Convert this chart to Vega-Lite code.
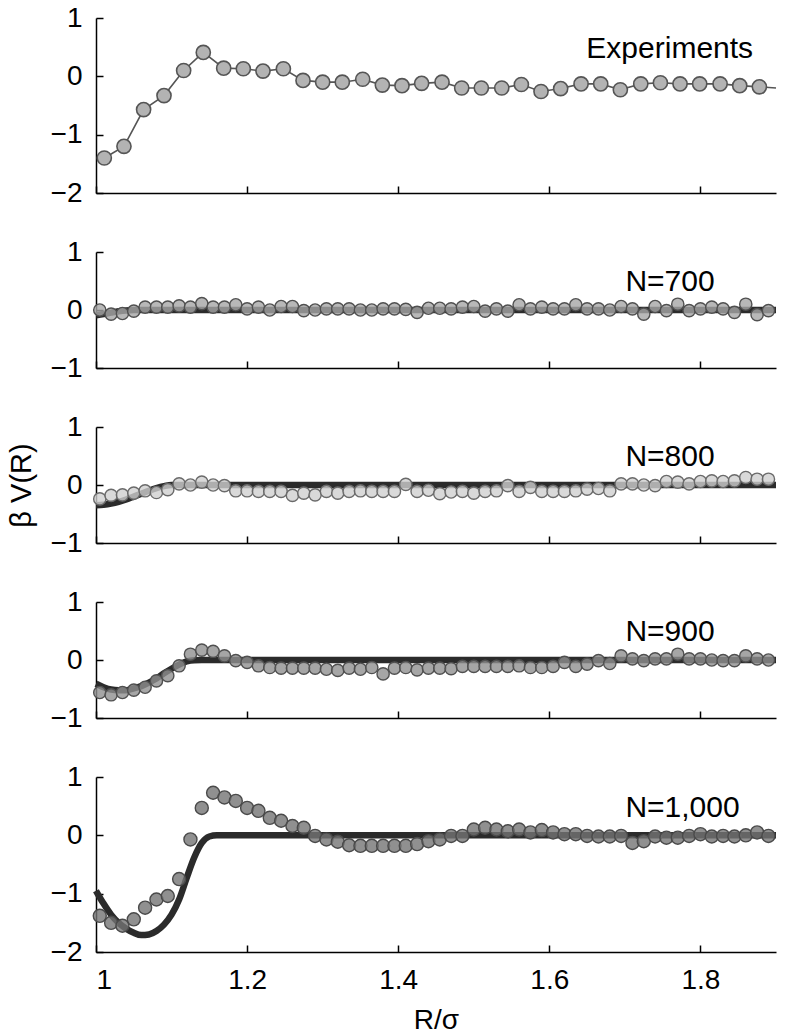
{
  "$schema": "https://vega.github.io/schema/vega-lite/v6.json",
  "padding": {"left": 7, "top": 4, "right": 5, "bottom": 5},
  "bounds": "flush",
  "spacing": 59,
  "background": "white",
  "config": {
    "view": {"stroke": null},
    "font": "Liberation Sans",
    "axis": {
      "domainColor": "black", "domainWidth": 1.5, "tickColor": "black", "tickWidth": 1.5,
      "tickSize": -7, "labelPadding": 21, "grid": false, "format": ".1~f",
      "labelFont": "Liberation Sans", "labelFontSize": 28, "labelColor": "black",
      "titleFont": "Liberation Sans", "titleFontWeight": "normal", "titleColor": "black", "titleFontSize": 29
    },
    "text": {"font": "Liberation Sans", "fontSize": 30, "color": "black", "align": "left", "baseline": "alphabetic"}
  },
  "datasets": {
    "exp": [
      {"x":1.011,"y":-1.40},{"x":1.037,"y":-1.20},{"x":1.063,"y":-0.57},{"x":1.090,"y":-0.33},{"x":1.116,"y":0.10},
      {"x":1.142,"y":0.41},{"x":1.169,"y":0.14},{"x":1.195,"y":0.13},{"x":1.221,"y":0.09},{"x":1.248,"y":0.13},
      {"x":1.274,"y":-0.07},{"x":1.300,"y":-0.10},{"x":1.326,"y":-0.10},{"x":1.353,"y":-0.05},{"x":1.379,"y":-0.15},
      {"x":1.405,"y":-0.16},{"x":1.431,"y":-0.12},{"x":1.458,"y":-0.10},{"x":1.484,"y":-0.20},{"x":1.510,"y":-0.20},
      {"x":1.537,"y":-0.20},{"x":1.563,"y":-0.14},{"x":1.589,"y":-0.26},{"x":1.615,"y":-0.21},{"x":1.642,"y":-0.13},
      {"x":1.668,"y":-0.13},{"x":1.694,"y":-0.23},{"x":1.721,"y":-0.13},{"x":1.747,"y":-0.11},{"x":1.773,"y":-0.13},
      {"x":1.799,"y":-0.13},{"x":1.826,"y":-0.13},{"x":1.852,"y":-0.16},{"x":1.878,"y":-0.18}
    ],
    "expTail": [{"x":1.878,"y":-0.18},{"x":1.9,"y":-0.2}],
    "n700": [
      {"x":1.005,"y":0},{"x":1.020,"y":-0.07},{"x":1.035,"y":-0.06},{"x":1.050,"y":-0.02},{"x":1.065,"y":0.05},
      {"x":1.080,"y":0.05},{"x":1.095,"y":0.05},{"x":1.110,"y":0.07},{"x":1.125,"y":0.05},{"x":1.140,"y":0.11},
      {"x":1.155,"y":0.05},{"x":1.170,"y":0.05},{"x":1.185,"y":0.09},{"x":1.200,"y":0.02},{"x":1.215,"y":0.05},
      {"x":1.230,"y":0},{"x":1.245,"y":0.06},{"x":1.260,"y":0.06},{"x":1.275,"y":-0.01},{"x":1.290,"y":0},
      {"x":1.305,"y":0.02},{"x":1.320,"y":0.02},{"x":1.335,"y":0.02},{"x":1.350,"y":0},{"x":1.365,"y":0},
      {"x":1.380,"y":0.02},{"x":1.395,"y":0.02},{"x":1.410,"y":0.01},{"x":1.425,"y":-0.04},{"x":1.440,"y":0.03},
      {"x":1.455,"y":0.03},{"x":1.470,"y":0.02},{"x":1.485,"y":0.05},{"x":1.500,"y":0.06},{"x":1.515,"y":-0.02},
      {"x":1.530,"y":0.02},{"x":1.545,"y":-0.02},{"x":1.560,"y":0.09},{"x":1.575,"y":0.02},{"x":1.590,"y":0.05},
      {"x":1.605,"y":0.02},{"x":1.620,"y":0.02},{"x":1.635,"y":0.09},{"x":1.650,"y":0.02},{"x":1.665,"y":0.02},
      {"x":1.680,"y":0},{"x":1.695,"y":0.06},{"x":1.710,"y":0.02},{"x":1.725,"y":-0.07},{"x":1.740,"y":0.06},
      {"x":1.755,"y":-0.01},{"x":1.770,"y":0.10},{"x":1.785,"y":-0.01},{"x":1.800,"y":0.02},{"x":1.815,"y":0.05},
      {"x":1.830,"y":0.02},{"x":1.845,"y":-0.04},{"x":1.860,"y":0.10},{"x":1.875,"y":-0.08},{"x":1.890,"y":-0.01}
    ],
    "n800": [
      {"x":1.005,"y":-0.24},{"x":1.020,"y":-0.18},{"x":1.035,"y":-0.17},{"x":1.050,"y":-0.14},{"x":1.065,"y":-0.10},
      {"x":1.080,"y":-0.13},{"x":1.095,"y":-0.08},{"x":1.110,"y":0.02},{"x":1.125,"y":0},{"x":1.140,"y":0.05},
      {"x":1.155,"y":0},{"x":1.170,"y":-0.01},{"x":1.185,"y":-0.10},{"x":1.200,"y":-0.10},{"x":1.215,"y":-0.11},
      {"x":1.230,"y":-0.11},{"x":1.245,"y":-0.11},{"x":1.260,"y":-0.18},{"x":1.275,"y":-0.14},{"x":1.290,"y":-0.17},
      {"x":1.305,"y":-0.11},{"x":1.320,"y":-0.14},{"x":1.335,"y":-0.11},{"x":1.350,"y":-0.10},{"x":1.365,"y":-0.11},
      {"x":1.380,"y":-0.11},{"x":1.395,"y":-0.11},{"x":1.410,"y":0.01},{"x":1.425,"y":-0.11},{"x":1.440,"y":-0.09},
      {"x":1.455,"y":-0.15},{"x":1.470,"y":-0.12},{"x":1.485,"y":-0.11},{"x":1.500,"y":-0.14},{"x":1.515,"y":-0.11},
      {"x":1.530,"y":-0.10},{"x":1.545,"y":-0.01},{"x":1.560,"y":-0.11},{"x":1.575,"y":-0.04},{"x":1.590,"y":-0.11},
      {"x":1.605,"y":-0.11},{"x":1.620,"y":-0.11},{"x":1.635,"y":-0.10},{"x":1.650,"y":-0.07},{"x":1.665,"y":-0.06},
      {"x":1.680,"y":-0.10},{"x":1.695,"y":0.02},{"x":1.710,"y":0.02},{"x":1.725,"y":0},{"x":1.740,"y":-0.01},
      {"x":1.755,"y":0.06},{"x":1.770,"y":0.05},{"x":1.785,"y":0.02},{"x":1.800,"y":0.06},{"x":1.815,"y":0.07},
      {"x":1.830,"y":0.06},{"x":1.845,"y":0.07},{"x":1.860,"y":0.13},{"x":1.875,"y":0.10},{"x":1.890,"y":0.10}
    ],
    "n900": [
      {"x":1.005,"y":-0.56},{"x":1.020,"y":-0.60},{"x":1.035,"y":-0.56},{"x":1.050,"y":-0.52},{"x":1.065,"y":-0.47},
      {"x":1.080,"y":-0.36},{"x":1.095,"y":-0.27},{"x":1.110,"y":-0.10},{"x":1.125,"y":0.10},{"x":1.140,"y":0.17},
      {"x":1.155,"y":0.15},{"x":1.170,"y":0.07},{"x":1.185,"y":-0.01},{"x":1.200,"y":-0.04},{"x":1.215,"y":-0.10},
      {"x":1.230,"y":-0.13},{"x":1.245,"y":-0.14},{"x":1.260,"y":-0.14},{"x":1.275,"y":-0.14},{"x":1.290,"y":-0.14},
      {"x":1.305,"y":-0.16},{"x":1.320,"y":-0.18},{"x":1.335,"y":-0.14},{"x":1.350,"y":-0.16},{"x":1.365,"y":-0.13},
      {"x":1.380,"y":-0.24},{"x":1.395,"y":-0.14},{"x":1.410,"y":-0.13},{"x":1.425,"y":-0.17},{"x":1.440,"y":-0.14},
      {"x":1.455,"y":-0.14},{"x":1.470,"y":-0.15},{"x":1.485,"y":-0.11},{"x":1.500,"y":-0.11},{"x":1.515,"y":-0.11},
      {"x":1.530,"y":-0.11},{"x":1.545,"y":-0.11},{"x":1.560,"y":-0.10},{"x":1.575,"y":-0.13},{"x":1.590,"y":-0.13},
      {"x":1.605,"y":-0.11},{"x":1.620,"y":-0.04},{"x":1.635,"y":-0.11},{"x":1.650,"y":-0.07},{"x":1.665,"y":-0.01},
      {"x":1.680,"y":-0.06},{"x":1.695,"y":0.07},{"x":1.710,"y":0.02},{"x":1.725,"y":-0.01},{"x":1.740,"y":0.02},
      {"x":1.755,"y":0.02},{"x":1.770,"y":0.10},{"x":1.785,"y":0.02},{"x":1.800,"y":0.02},{"x":1.815,"y":0},
      {"x":1.830,"y":-0.01},{"x":1.845,"y":-0.01},{"x":1.860,"y":0.07},{"x":1.875,"y":0.02},{"x":1.890,"y":0}
    ],
    "n1000": [
      {"x":1.005,"y":-1.38},{"x":1.020,"y":-1.50},{"x":1.035,"y":-1.55},{"x":1.050,"y":-1.44},{"x":1.065,"y":-1.24},
      {"x":1.080,"y":-1.10},{"x":1.095,"y":-1.04},{"x":1.110,"y":-0.75},{"x":1.125,"y":-0.07},{"x":1.140,"y":0.47},
      {"x":1.155,"y":0.73},{"x":1.170,"y":0.65},{"x":1.185,"y":0.59},{"x":1.200,"y":0.47},{"x":1.215,"y":0.42},
      {"x":1.230,"y":0.30},{"x":1.245,"y":0.25},{"x":1.260,"y":0.16},{"x":1.275,"y":0.13},{"x":1.290,"y":-0.01},
      {"x":1.305,"y":-0.07},{"x":1.320,"y":-0.11},{"x":1.335,"y":-0.17},{"x":1.350,"y":-0.18},{"x":1.365,"y":-0.18},
      {"x":1.380,"y":-0.18},{"x":1.395,"y":-0.18},{"x":1.410,"y":-0.18},{"x":1.425,"y":-0.15},{"x":1.440,"y":-0.10},
      {"x":1.455,"y":-0.07},{"x":1.470,"y":-0.01},{"x":1.485,"y":-0.01},{"x":1.500,"y":0.10},{"x":1.515,"y":0.13},
      {"x":1.530,"y":0.10},{"x":1.545,"y":0.07},{"x":1.560,"y":0.10},{"x":1.575,"y":0.05},{"x":1.590,"y":0.09},
      {"x":1.605,"y":0.05},{"x":1.620,"y":0.02},{"x":1.635,"y":0.02},{"x":1.650,"y":-0.01},{"x":1.665,"y":-0.02},
      {"x":1.680,"y":-0.02},{"x":1.695,"y":-0.01},{"x":1.710,"y":-0.13},{"x":1.725,"y":-0.10},{"x":1.740,"y":-0.02},
      {"x":1.755,"y":-0.04},{"x":1.770,"y":-0.04},{"x":1.785,"y":-0.01},{"x":1.800,"y":0.02},{"x":1.815,"y":-0.02},
      {"x":1.830,"y":-0.01},{"x":1.845,"y":-0.02},{"x":1.860,"y":0},{"x":1.875,"y":0.05},{"x":1.890,"y":-0.01}
    ],
    "c700": [{"x":1.0,"y":-0.09},{"x":1.01,"y":-0.07},{"x":1.02,"y":-0.045},{"x":1.03,"y":-0.022},{"x":1.04,"y":-0.007},{"x":1.05,"y":0},{"x":1.9,"y":0}],
    "c800": [{"x":1.0,"y":-0.35},{"x":1.01,"y":-0.34},{"x":1.02,"y":-0.32},{"x":1.03,"y":-0.29},{"x":1.04,"y":-0.25},{"x":1.05,"y":-0.20},{"x":1.06,"y":-0.15},{"x":1.07,"y":-0.10},{"x":1.08,"y":-0.055},{"x":1.09,"y":-0.02},{"x":1.10,"y":0},{"x":1.9,"y":0}],
    "c900": [{"x":1.0,"y":-0.41},{"x":1.01,"y":-0.47},{"x":1.02,"y":-0.51},{"x":1.03,"y":-0.52},{"x":1.04,"y":-0.52},{"x":1.05,"y":-0.49},{"x":1.06,"y":-0.45},{"x":1.07,"y":-0.39},{"x":1.08,"y":-0.32},{"x":1.09,"y":-0.23},{"x":1.10,"y":-0.15},{"x":1.11,"y":-0.08},{"x":1.12,"y":-0.025},{"x":1.13,"y":-0.003},{"x":1.14,"y":0},{"x":1.9,"y":0}],
    "c1000": [{"x":1.0,"y":-0.95},{"x":1.01,"y":-1.17},{"x":1.02,"y":-1.36},{"x":1.03,"y":-1.50},{"x":1.04,"y":-1.60},{"x":1.05,"y":-1.67},{"x":1.06,"y":-1.71},{"x":1.07,"y":-1.70},{"x":1.08,"y":-1.64},{"x":1.09,"y":-1.53},{"x":1.10,"y":-1.36},{"x":1.11,"y":-1.10},{"x":1.12,"y":-0.73},{"x":1.13,"y":-0.38},{"x":1.14,"y":-0.13},{"x":1.15,"y":-0.02},{"x":1.16,"y":0},{"x":1.9,"y":0}]
  },
  "vconcat": [
    {
      "width": 680, "height": 175,
      "layer": [
        {"data": {"name": "exp"}, "mark": {"type": "line", "color": "#555555", "strokeWidth": 1.6},
         "encoding": {
           "x": {"field": "x", "type": "quantitative", "scale": {"domain": [1, 1.9], "nice": false},
                 "axis": {"values": [1, 1.2, 1.4, 1.6, 1.8], "labels": false, "title": null}},
           "y": {"field": "y", "type": "quantitative", "scale": {"domain": [-2, 1], "nice": false},
                 "axis": {"values": [-2, -1, 0, 1], "title": null}}}},
        {"data": {"name": "expTail"}, "mark": {"type": "line", "color": "#555555", "strokeWidth": 1.6},
         "encoding": {"x": {"field": "x", "type": "quantitative"}, "y": {"field": "y", "type": "quantitative"}}},
        {"data": {"name": "exp"}, "mark": {"type": "point", "shape": "circle", "filled": true, "fill": "#b3b3b3", "stroke": "#555555", "strokeWidth": 1.6, "size": 200, "opacity": 1},
         "encoding": {"x": {"field": "x", "type": "quantitative"}, "y": {"field": "y", "type": "quantitative"}}},
        {"data": {"values": [{"label": "Experiments"}]},
         "mark": {"type": "text"},
         "encoding": {"x": {"datum": 1.649, "type": "quantitative"}, "y": {"datum": 0.31, "type": "quantitative"}, "text": {"field": "label", "type": "nominal"}}}
      ]
    },
    {
      "width": 680, "height": 116,
      "layer": [
        {"data": {"name": "c700"}, "mark": {"type": "line", "color": "#2b2b2b", "strokeWidth": 6.5, "interpolate": "monotone"},
         "encoding": {
           "x": {"field": "x", "type": "quantitative", "scale": {"domain": [1, 1.9], "nice": false},
                 "axis": {"values": [1, 1.2, 1.4, 1.6, 1.8], "labels": false, "title": null}},
           "y": {"field": "y", "type": "quantitative", "scale": {"domain": [-1, 1], "nice": false},
                 "axis": {"values": [-1, 0, 1], "title": null}}}},
        {"data": {"name": "n700"}, "mark": {"type": "point", "shape": "circle", "filled": true, "fill": "#a6a6a6", "fillOpacity": 0.8, "stroke": "#505050", "strokeWidth": 1.4, "size": 150, "opacity": 1},
         "encoding": {"x": {"field": "x", "type": "quantitative"}, "y": {"field": "y", "type": "quantitative"}}},
        {"data": {"values": [{"label": "N=700"}]},
         "mark": {"type": "text"},
         "encoding": {"x": {"datum": 1.7007, "type": "quantitative"}, "y": {"datum": 0.32, "type": "quantitative"}, "text": {"field": "label", "type": "nominal"}}}
      ]
    },
    {
      "width": 680, "height": 116,
      "layer": [
        {"data": {"name": "c800"}, "mark": {"type": "line", "color": "#2b2b2b", "strokeWidth": 6.5, "interpolate": "monotone"},
         "encoding": {
           "x": {"field": "x", "type": "quantitative", "scale": {"domain": [1, 1.9], "nice": false},
                 "axis": {"values": [1, 1.2, 1.4, 1.6, 1.8], "labels": false, "title": null}},
           "y": {"field": "y", "type": "quantitative", "scale": {"domain": [-1, 1], "nice": false},
                 "axis": {"values": [-1, 0, 1], "title": "β V(R)", "titlePadding": 14}}}},
        {"data": {"name": "n800"}, "mark": {"type": "point", "shape": "circle", "filled": true, "fill": "#d0d0d0", "fillOpacity": 0.8, "stroke": "#6a6a6a", "strokeWidth": 1.4, "size": 150, "opacity": 1},
         "encoding": {"x": {"field": "x", "type": "quantitative"}, "y": {"field": "y", "type": "quantitative"}}},
        {"data": {"values": [{"label": "N=800"}]},
         "mark": {"type": "text"},
         "encoding": {"x": {"datum": 1.7007, "type": "quantitative"}, "y": {"datum": 0.32, "type": "quantitative"}, "text": {"field": "label", "type": "nominal"}}}
      ]
    },
    {
      "width": 680, "height": 116,
      "layer": [
        {"data": {"name": "c900"}, "mark": {"type": "line", "color": "#2b2b2b", "strokeWidth": 6.5, "interpolate": "monotone"},
         "encoding": {
           "x": {"field": "x", "type": "quantitative", "scale": {"domain": [1, 1.9], "nice": false},
                 "axis": {"values": [1, 1.2, 1.4, 1.6, 1.8], "labels": false, "title": null}},
           "y": {"field": "y", "type": "quantitative", "scale": {"domain": [-1, 1], "nice": false},
                 "axis": {"values": [-1, 0, 1], "title": null}}}},
        {"data": {"name": "n900"}, "mark": {"type": "point", "shape": "circle", "filled": true, "fill": "#909090", "fillOpacity": 0.8, "stroke": "#505050", "strokeWidth": 1.4, "size": 150, "opacity": 1},
         "encoding": {"x": {"field": "x", "type": "quantitative"}, "y": {"field": "y", "type": "quantitative"}}},
        {"data": {"values": [{"label": "N=900"}]},
         "mark": {"type": "text"},
         "encoding": {"x": {"datum": 1.7007, "type": "quantitative"}, "y": {"datum": 0.32, "type": "quantitative"}, "text": {"field": "label", "type": "nominal"}}}
      ]
    },
    {
      "width": 680, "height": 175,
      "layer": [
        {"data": {"name": "c1000"}, "mark": {"type": "line", "color": "#2b2b2b", "strokeWidth": 6.5, "interpolate": "monotone"},
         "encoding": {
           "x": {"field": "x", "type": "quantitative", "scale": {"domain": [1, 1.9], "nice": false},
                 "axis": {"values": [1, 1.2, 1.4, 1.6, 1.8], "title": "R/σ", "titleFontSize": 28, "titlePadding": 12}},
           "y": {"field": "y", "type": "quantitative", "scale": {"domain": [-2, 1], "nice": false},
                 "axis": {"values": [-2, -1, 0, 1], "title": null}}}},
        {"data": {"name": "n1000"}, "mark": {"type": "point", "shape": "circle", "filled": true, "fill": "#747474", "fillOpacity": 0.8, "stroke": "#4a4a4a", "strokeWidth": 1.4, "size": 170, "opacity": 1},
         "encoding": {"x": {"field": "x", "type": "quantitative"}, "y": {"field": "y", "type": "quantitative"}}},
        {"data": {"values": [{"label": "N=1,000"}]},
         "mark": {"type": "text"},
         "encoding": {"x": {"datum": 1.7007, "type": "quantitative"}, "y": {"datum": 0.32, "type": "quantitative"}, "text": {"field": "label", "type": "nominal"}}}
      ]
    }
  ]
}
